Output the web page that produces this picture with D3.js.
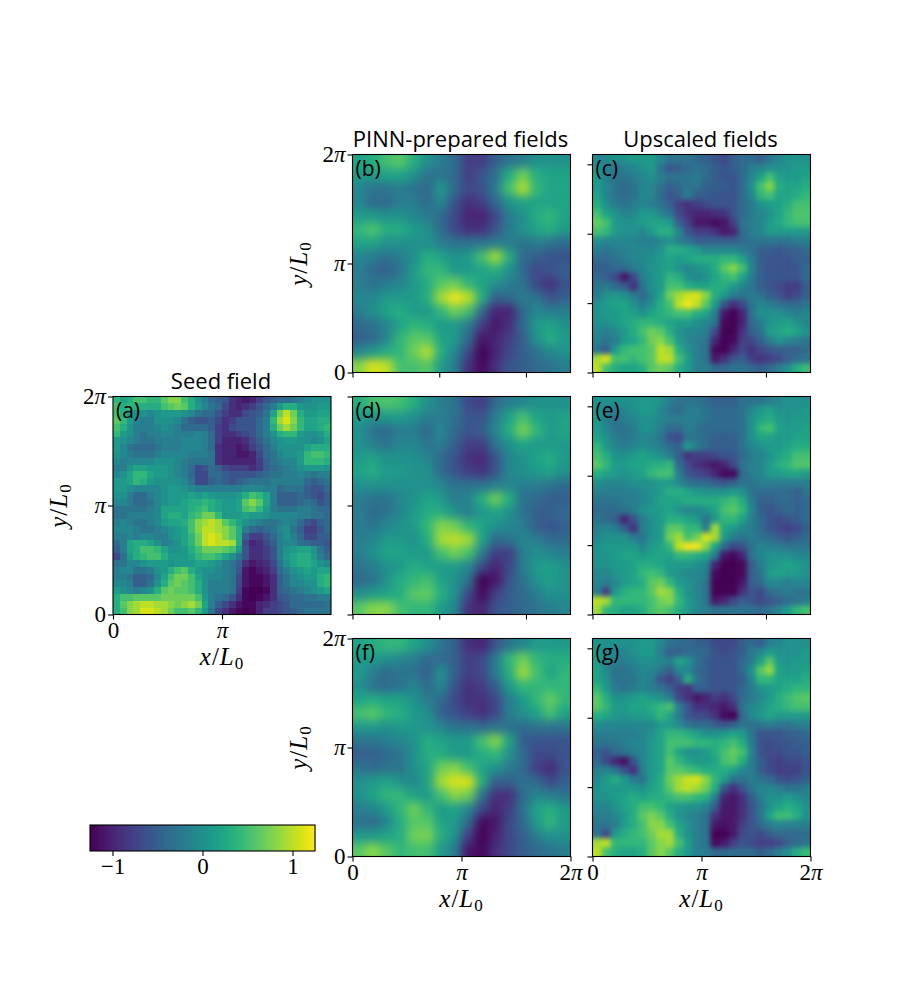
<!DOCTYPE html>
<html>
<head>
<meta charset="utf-8">
<script src="https://cdn.jsdelivr.net/npm/d3@7"></script>
<style>
  body { margin: 0; background: #fff; }
  svg { display: block; }
  .title { font-family: "Open Sans", sans-serif; font-size: 22px; fill: #000; text-anchor: middle; }
  .tag { font-family: "Open Sans", sans-serif; font-size: 21px; fill: #000; }
  .tick text, .math { font-family: "Liberation Serif", serif; font-size: 23px; fill: #000; }
  .math { font-size: 25px; letter-spacing: 1px; }
  .tick line, .domain { stroke: #000; stroke-width: 1.1px; }
</style>
</head>
<body>
<div id="chart"></div>
<script>
const WIDTH = 900;
const HEIGHT = 1000;
const PI = Math.PI;
const VMIN = -1.25;
const VMAX = 1.25;

// Seed field, 32 x 32, top row first
const seedField = [
[.4,.2,.3,.5,.5,.4,.4,.6,.8,.8,.5,.3,0,-.2,-.4,-.5,-.6,-.9,-1,-1.1,-1,-.8,-.6,-.5,-.4,-.4,-.3,-.2,-.1,0,0,0],
[.5,.3,.4,.3,.3,.3,.3,.5,.6,.7,.6,.3,.1,-.1,-.3,-.4,-.7,-.9,-1,-.9,-.8,-.6,-.4,-.2,.1,.3,.3,.1,0,0,.1,.1],
[.5,.3,.1,0,0,-.1,0,.1,.1,.1,0,-.1,-.3,-.4,-.4,-.6,-.8,-.9,-.9,-.7,-.6,-.5,-.3,.2,.7,1,.7,.3,.1,.1,.2,.2],
[.6,.4,.1,-.1,-.2,-.2,0,0,0,-.1,-.3,-.5,-.6,-.6,-.5,-.7,-.9,-.8,-.6,-.6,-.6,-.4,-.2,.4,.9,1.1,.8,.4,.2,.2,.3,.3],
[.5,.3,0,-.2,-.2,-.2,-.1,0,-.1,-.2,-.4,-.4,-.4,-.4,-.5,-.8,-.9,-.7,-.6,-.6,-.6,-.4,-.2,.3,.7,.9,.7,.4,.2,.2,.3,.4],
[.4,.1,0,-.2,-.3,-.2,-.2,-.1,-.1,-.2,-.2,-.2,-.1,-.2,-.4,-.8,-.9,-.9,-.8,-.7,-.6,-.4,-.2,0,.3,.4,.4,.1,0,0,.1,.3],
[.1,0,-.1,-.2,-.3,-.3,-.2,-.2,-.2,-.2,-.1,-.1,-.1,-.2,-.4,-.8,-1,-1,-1,-.9,-.7,-.5,-.3,-.1,0,.1,.1,0,0,-.1,0,.2],
[.1,-.1,-.3,-.4,-.4,-.4,-.3,-.2,-.2,-.2,-.1,-.1,-.1,-.2,-.4,-.9,-1,-1,-1.1,-1,-.8,-.6,-.4,-.2,0,0,0,0,.2,.3,.3,.3],
[0,-.1,-.2,-.3,-.3,-.3,-.2,-.1,-.1,-.1,-.1,-.2,-.2,-.2,-.3,-.9,-1,-1,-1.1,-1.1,-1,-.7,-.4,-.3,-.1,0,0,.1,.4,.5,.5,.4],
[-.1,-.2,-.1,-.1,-.1,-.1,0,0,0,-.1,-.2,-.3,-.3,-.3,-.3,-.9,-1,-1,-1,-1,-1,-.8,-.5,-.3,-.2,-.1,-.1,.1,.4,.4,.4,.3],
[-.2,-.2,0,.2,.2,.1,.1,.1,0,-.1,-.2,-.4,-.7,-.6,-.4,-.5,-.7,-.8,-.8,-.8,-.9,-.8,-.5,-.4,-.3,-.2,-.1,0,.1,.1,.1,0],
[-.1,0,.2,.4,.4,.2,.1,.1,0,-.1,-.2,-.4,-.7,-.7,-.4,-.4,-.5,-.6,-.6,-.6,-.6,-.5,-.4,-.3,-.3,-.2,-.2,-.1,-.2,-.3,-.2,-.2],
[.1,.1,.2,.4,.3,.1,0,0,0,0,-.1,-.3,-.7,-.7,-.5,-.4,-.5,-.6,-.5,-.4,-.3,-.3,-.3,-.2,-.2,-.2,-.2,-.2,-.4,-.5,-.4,-.3],
[.1,.1,0,-.1,-.1,-.1,-.1,0,.1,.1,0,-.1,-.2,-.2,-.2,-.2,-.2,-.2,-.2,-.1,-.1,-.1,-.2,-.2,-.4,-.3,-.3,-.3,-.5,-.6,-.6,-.4],
[0,0,-.2,-.4,-.4,-.2,-.1,0,.1,.1,.1,.2,.1,.2,.1,0,0,0,.1,.3,.5,.4,.2,-.2,-.5,-.5,-.5,-.4,-.5,-.6,-.7,-.5],
[-.1,-.1,-.2,-.4,-.4,-.3,-.1,0,.1,.1,.2,.3,.3,.4,.3,.2,.1,.1,.2,.6,.8,.6,.2,-.2,-.5,-.5,-.5,-.4,-.3,-.4,-.6,-.5],
[-.3,-.3,-.3,-.3,-.3,-.2,-.1,.2,.2,.2,.2,.3,.4,.5,.3,.2,.1,.1,.2,.5,.6,.4,.1,-.2,-.3,-.3,-.3,-.2,-.2,-.3,-.4,-.4],
[-.3,-.3,-.2,-.2,-.2,-.2,-.1,.2,.3,.3,.2,.4,.5,.7,.7,.4,.1,.1,.1,.2,.1,.1,0,-.1,-.1,-.1,-.1,-.2,-.2,-.3,-.3,-.4],
[-.2,-.1,-.2,-.3,-.3,-.2,-.1,.1,.2,.2,.3,.5,.8,.9,1,.9,.6,.4,.2,0,-.1,-.2,-.3,-.3,-.2,-.1,-.2,-.4,-.6,-.7,-.5,-.4],
[-.1,-.1,-.1,-.2,-.3,-.3,-.2,-.1,0,.1,.2,.5,.8,1,1,.9,.8,.6,.3,-.2,-.4,-.5,-.4,-.3,-.1,0,-.3,-.5,-.8,-.8,-.6,-.4],
[-.2,-.2,-.1,-.2,-.1,-.1,-.2,-.2,0,.1,.2,.4,.7,1,1.1,1,.8,.6,.3,-.5,-.8,-.8,-.6,-.4,-.2,0,-.2,-.4,-.7,-.7,-.5,-.5],
[-.4,-.2,.2,.3,.3,.2,0,-.2,-.1,0,.2,.4,.7,1,1.1,1,1,.9,.3,-.7,-1,-.9,-.7,-.5,-.2,-.1,-.1,-.3,-.4,-.5,-.5,-.6],
[-.5,-.2,.2,.3,.5,.5,.4,.2,0,0,.1,.3,.5,.7,.7,.7,.6,.5,.1,-.6,-.9,-.9,-.8,-.6,-.2,0,.1,.2,.2,0,-.3,-.5],
[-.7,-.3,.1,.3,.4,.5,.5,.3,.1,.1,.1,.2,.4,.5,.5,.4,.2,0,-.3,-.6,-.9,-.9,-.8,-.6,-.2,.1,.2,.3,.3,.1,-.2,-.4],
[-.3,-.3,-.1,-.1,0,.1,.1,.1,0,.1,.1,.1,.2,.2,.1,0,-.2,-.3,-.5,-.9,-1.1,-1,-.9,-.7,-.3,0,.2,.3,.3,.2,0,-.1],
[-.2,-.1,-.1,-.3,-.3,-.2,0,.1,.3,.5,.6,.3,.1,0,0,-.1,-.2,-.3,-.6,-1.1,-1.2,-1.1,-1,-.8,-.4,-.2,0,.1,.2,.1,.2,.2],
[-.2,-.2,-.3,-.5,-.5,-.4,-.1,.2,.5,.7,.7,.5,.2,0,-.1,-.1,-.2,-.3,-.7,-1.1,-1.2,-1.2,-1.1,-.9,-.5,-.3,-.1,0,.1,.1,.3,.4],
[-.1,-.1,-.2,-.5,-.5,-.3,0,.3,.6,.7,.6,.5,.3,0,-.2,-.2,-.2,-.3,-.7,-1.1,-1.2,-1.2,-1.1,-.9,-.5,-.3,-.1,-.1,0,0,.3,.4],
[.1,0,-.1,-.2,-.1,0,.3,.6,.7,.6,.6,.5,.3,0,-.2,-.2,-.2,-.3,-.8,-1.2,-1.25,-1.25,-1.2,-.9,-.5,-.4,-.3,-.2,-.1,0,.1,.2],
[.3,.5,.5,.6,.6,.6,.6,.7,.7,.7,.7,.7,.5,.1,-.2,-.3,-.4,-.6,-.9,-1.2,-1.25,-1.2,-1.1,-.9,-.6,-.5,-.4,-.4,-.3,-.3,-.2,-.2],
[.3,.6,.8,.9,1,1,.9,.9,.8,.7,.8,.9,.7,.2,-.2,-.5,-.7,-.9,-1.1,-1.2,-1.2,-1,-.9,-.8,-.7,-.6,-.4,-.4,-.4,-.4,-.4,-.3],
[.3,.5,.8,.9,1.1,1.1,1,.9,.7,.5,.5,.6,.4,.1,-.3,-.7,-.9,-1.1,-1.2,-1.25,-1.2,-1,-.8,-.8,-.7,-.6,-.5,-.4,-.3,-.3,-.3,-.3],
];

// PINN-prepared fields, 16 x 16
const fieldB = [
[.2,.3,.5,.6,.3,0,-.2,-.4,-.8,-.8,-.5,-.3,-.2,0,0,0],
[.1,.1,.2,.2,0,-.3,-.3,-.4,-.8,-.6,-.3,.3,.7,.3,.2,.2],
[-.1,-.3,-.3,-.2,-.3,-.4,.1,-.4,-.7,-.6,-.2,.5,.95,.4,.2,.2],
[-.1,-.4,-.4,-.2,-.2,-.4,-.1,-.6,-.9,-.8,-.4,0,.2,.2,.2,.2],
[.1,.1,0,0,-.1,-.2,-.4,-.7,-1,-1,-.7,-.2,0,.3,.4,.2],
[.4,.55,.3,.3,.1,0,-.4,-.7,-.9,-.9,-.6,-.2,0,.2,.3,.1],
[.2,.2,0,0,0,0,-.2,-.3,-.3,-.3,-.2,-.2,-.3,-.2,-.3,-.4],
[-.1,-.2,-.3,-.2,0,.3,.2,0,.1,.5,.9,.3,-.4,-.5,-.6,-.6],
[-.2,-.4,-.5,-.3,.1,.4,.4,.1,.1,.2,.3,0,-.4,-.7,-.6,-.5],
[-.2,-.3,-.2,-.1,.1,.3,.6,.7,.4,.2,0,-.2,-.3,-.7,-.9,-.6],
[-.1,-.1,.1,.1,.1,.3,.9,1.2,1,.3,-.5,-.4,-.2,-.3,-.6,-.5],
[-.2,0,.2,.3,.1,.1,.4,.7,.5,-.4,-1,-1,-.4,-.1,-.2,-.2],
[-.4,-.3,-.1,.2,.4,.3,.1,.1,-.2,-.8,-1.1,-.9,-.4,.1,.2,0],
[-.5,-.4,-.1,.4,.6,.6,.2,.1,-.4,-1.1,-1,-.8,-.5,0,.3,.1],
[-.1,.1,.3,.4,.7,.95,.3,-.1,-.7,-1.25,-1,-.7,-.5,-.3,-.1,0],
[.8,1.1,1,.5,.5,.6,.1,-.2,-.9,-1.2,-.9,-.6,-.5,-.4,-.3,-.2],
];
const fieldD = [
[.3,.5,.55,.5,.3,0,-.2,-.3,-.7,-.8,-.4,-.2,-.1,0,0,0],
[.1,0,.1,.1,0,-.2,-.2,-.3,-.6,-.6,-.2,.2,.5,.2,.1,.2],
[0,-.3,-.4,-.2,-.2,-.4,-.1,-.4,-.6,-.5,-.1,.3,.75,.4,.1,.2],
[0,-.2,-.3,-.1,-.1,-.3,-.2,-.5,-.8,-.8,-.3,0,.2,.1,.1,.1],
[.1,.2,0,0,0,-.1,-.4,-.6,-.9,-.95,-.6,-.1,0,.2,.3,.1],
[.2,.3,.1,.1,0,0,-.4,-.6,-.8,-.9,-.6,-.1,0,.1,.2,0],
[0,0,0,0,0,0,-.1,-.3,-.3,-.3,-.2,-.1,-.2,-.2,-.3,-.4],
[-.2,-.3,-.3,-.1,0,.2,.1,-.2,-.1,.3,.7,.3,-.3,-.4,-.5,-.5],
[-.2,-.4,-.3,-.1,.1,.3,.3,0,-.2,.1,.2,0,-.3,-.5,-.5,-.4],
[-.2,-.3,-.1,0,.1,.4,.8,.7,.4,.2,0,-.1,-.2,-.5,-.6,-.5],
[-.2,-.1,.1,.1,0,.3,.9,1,.9,.2,-.4,-.3,-.1,-.2,-.4,-.4],
[-.2,0,.2,.2,.1,.1,.5,.7,.5,-.2,-.8,-.8,-.2,0,-.1,-.2],
[-.3,-.2,0,.1,.3,.2,.1,.1,-.1,-.7,-1,-.7,-.2,.1,.15,0],
[-.4,-.3,0,.3,.4,.5,.2,0,-.3,-1.25,-1.1,-.6,-.3,0,.15,0],
[0,.1,.2,.3,.6,.65,.3,0,-.7,-1.2,-.8,-.5,-.4,-.2,0,0],
[.6,.8,.8,.5,.4,.4,.1,-.1,-.9,-1,-.6,-.5,-.4,-.3,-.2,-.1],
];
const fieldF = [
[.2,.3,.4,.4,.2,0,-.3,-.5,-.9,-1,-.6,-.3,-.1,.1,.1,.1],
[.1,.1,0,-.1,-.2,-.4,-.4,-.5,-.8,-.7,-.2,.4,.7,.4,.3,.3],
[.1,-.2,-.4,-.3,-.3,-.5,0,-.5,-.8,-.7,-.2,.3,.9,.5,.2,.4],
[0,-.3,-.4,-.3,-.1,-.4,-.1,-.6,-.9,-.8,-.5,.1,.4,.4,.4,.4],
[.2,.3,.2,.2,0,-.2,-.4,-.7,-.9,-.9,-.7,-.2,.1,.4,.65,.4],
[.5,.6,.4,.3,.1,0,-.5,-.6,-.8,-.9,-.7,-.2,0,.2,.5,.2],
[.1,.1,0,.1,.1,0,-.1,-.3,-.3,-.4,-.3,-.3,-.4,-.3,-.3,-.3],
[-.3,-.3,-.2,-.1,0,.3,.2,.1,.1,.5,.8,.2,-.5,-.6,-.6,-.6],
[-.5,-.5,-.4,-.3,0,.3,.3,.1,.1,.3,.4,0,-.4,-.7,-.7,-.6],
[-.3,-.4,-.3,-.3,0,.2,.7,.8,.5,.2,0,-.2,-.4,-.8,-.95,-.6],
[0,.1,.2,0,-.1,.2,.9,1.1,1.1,.3,-.5,-.5,-.3,-.4,-.7,-.5],
[0,.2,.4,.4,.2,.1,.5,.8,.7,-.3,-.9,-.9,-.4,-.1,-.2,-.3],
[-.2,-.1,.1,.4,.7,.4,.1,.2,-.1,-.7,-1,-.8,-.3,.2,.3,.1],
[-.3,-.4,-.1,.3,.6,.6,.2,.1,-.4,-1.2,-1.1,-.7,-.4,.1,.4,.1],
[.1,.1,.2,.3,.7,.75,.3,0,-.8,-1.25,-1,-.7,-.5,-.2,0,0],
[.6,.8,.6,.4,.5,.5,.1,-.2,-1.1,-1.2,-.9,-.7,-.5,-.4,-.3,-.2],
];

// Upscaled fields, 24 x 24
const fieldC = [
[-.1,-.1,0,0,.1,.1,.1,-.1,-.3,-.3,-.3,-.4,-.5,-.6,-.7,-.5,-.4,-.4,-.5,-.3,-.1,0,0,0],
[0,-.2,-.3,-.2,-.1,0,.1,-.3,-.6,-.5,-.4,-.3,-.4,-.5,-.6,-.5,-.4,-.2,-.1,0,0,0,.1,.1],
[.1,-.2,-.3,-.3,-.2,-.1,0,-.2,-.3,-.3,-.3,-.2,-.4,-.5,-.6,-.6,-.4,-.1,.2,.5,.2,.1,.1,.2],
[.1,-.1,-.3,-.4,-.3,-.1,-.1,-.3,-.5,-.4,-.3,-.3,-.5,-.5,-.5,-.6,-.4,0,.5,.8,.3,.2,.2,.3],
[.2,-.1,-.3,-.4,-.3,-.1,-.1,-.4,-.6,-.5,-.2,-.5,-.5,-.6,-.6,-.6,-.4,-.1,.4,.5,.2,.2,.3,.4],
[.3,0,-.2,-.3,-.2,-.1,-.2,-.3,-.5,-.8,-.9,-.8,-.7,-.6,-.6,-.6,-.4,-.2,0,.1,.2,.3,.5,.5],
[.5,.2,0,-.1,-.1,.1,.1,-.1,-.3,-.7,-.9,-1,-1,-.9,-.9,-.6,-.4,-.2,-.1,0,.2,.4,.55,.55],
[.65,.5,.1,0,0,.1,.2,.2,.1,-.5,-.8,-1.1,-1.1,-1.2,-1.1,-.8,-.3,-.2,-.1,.1,.25,.4,.5,.5],
[.5,.4,.1,0,0,-.1,.1,.3,.3,-.1,-.6,-.8,-.8,-.9,-1.1,-1,-.4,-.2,-.1,.1,.1,.1,.1,.1],
[0,-.1,-.1,-.1,-.1,-.2,-.2,-.1,0,-.2,-.3,-.5,-.5,-.5,-.5,-.5,-.4,-.3,-.3,-.3,-.3,-.3,-.2,-.2],
[-.2,-.3,-.2,-.2,-.1,-.1,-.1,0,.3,.3,.2,.1,-.1,-.1,-.1,-.1,-.2,-.3,-.5,-.5,-.6,-.5,-.5,-.4],
[-.4,-.4,-.3,-.2,-.1,-.1,0,.1,.2,.1,.2,.3,.3,.3,.4,.4,.2,-.2,-.5,-.6,-.6,-.6,-.5,-.5],
[-.5,-.5,-.4,-.4,-.2,-.1,0,.1,.2,0,-.1,0,.1,.3,.6,.8,.5,-.1,-.5,-.6,-.6,-.6,-.6,-.4],
[-.4,-.5,-.7,-1.1,-.7,-.2,0,.1,.4,.3,0,-.1,0,.2,.4,.5,.2,-.2,-.5,-.6,-.6,-.6,-.6,-.4],
[-.3,-.2,-.4,-.5,-.9,-.3,0,.1,.5,.5,.3,.2,.2,.3,.3,.1,-.1,-.3,-.5,-.6,-.7,-.8,-.8,-.5],
[-.2,0,.1,0,-.2,-.4,-.1,.2,.7,.9,1.05,1.1,.8,.3,.1,-.2,-.3,-.2,-.3,-.5,-.6,-.8,-.7,-.5],
[0,.1,.2,.2,0,-.2,0,.3,.5,1,1.2,1,.6,.1,-.6,-.9,-.7,-.3,-.1,-.2,-.3,-.4,-.4,-.3],
[0,.1,.1,.2,.2,0,.2,.3,.4,.5,.5,.3,.2,-.2,-1.1,-1.25,-1,-.3,0,0,0,-.1,-.2,-.1],
[0,0,.1,.2,.3,.4,.4,.3,.2,.1,.1,0,-.1,-.3,-1.2,-1.25,-1,-.4,-.2,0,.1,.2,0,-.1],
[-.1,-.2,-.1,.1,.3,.5,.7,.6,.3,0,-.1,-.1,-.2,-.7,-1.25,-1.25,-.9,-.5,-.3,.1,.2,.3,.2,0],
[-.2,-.3,-.2,.1,.2,.4,.7,.8,.5,.1,-.1,-.2,-.3,-1,-1.25,-1.2,-.8,-.7,-.5,-.2,0,-.1,-.2,-.3],
[-.3,-.5,.1,.4,.5,.5,.6,1,.9,.3,0,-.2,-.3,-1.2,-1.25,-1,-.7,-.9,-.7,-.6,-.5,-.5,-.5,-.4],
[.9,1.1,.5,.5,.4,.5,.6,1,1,.5,.1,-.2,-.3,-1.1,-.9,-.6,-.5,-.8,-.9,-.8,-.7,-.5,-.4,-.3],
[1,.5,.3,.2,.2,.3,.6,.7,.6,.3,.1,-.2,-.2,-.4,-.4,-.3,-.3,-.4,-.5,-.4,-.2,0,.3,.45],
];
const fieldE = [
[0,0,0,0,0,.1,.1,0,-.2,-.3,-.3,-.3,-.4,-.5,-.5,-.5,-.3,-.3,-.3,-.2,-.1,0,0,0],
[0,-.2,-.2,-.1,0,.1,.1,-.1,-.3,-.4,-.2,-.2,-.3,-.4,-.4,-.4,-.3,-.1,.1,.2,0,0,0,.1],
[.1,-.2,-.3,-.2,-.1,0,0,-.1,-.2,-.2,-.2,-.2,-.3,-.4,-.4,-.4,-.3,0,.2,.3,.1,0,.1,.1],
[.1,-.1,-.3,-.3,-.2,0,0,-.2,-.4,-.4,-.2,-.3,-.4,-.4,-.4,-.4,-.3,0,.4,.5,.2,.1,.1,.2],
[.2,0,-.2,-.3,-.2,-.1,-.1,-.3,-.6,-.7,-.3,-.3,-.4,-.5,-.5,-.5,-.3,0,.2,.2,.1,.1,.2,.2],
[.4,.1,-.1,-.2,-.1,0,-.1,-.2,-.4,-.5,.1,-.2,-.4,-.5,-.5,-.5,-.3,-.1,0,.1,.1,.2,.3,.3],
[.5,.3,0,0,.1,.2,.1,0,-.2,-.5,-.9,-.8,-.8,-.7,-.6,-.6,-.4,-.2,-.1,0,.2,.3,.5,.5],
[.6,.4,.1,.1,.2,.2,.3,.3,.4,-.4,-.7,-.9,-1,-1.1,-1,-.7,-.3,-.2,-.1,.1,.3,.4,.55,.55],
[.3,.2,.1,0,.1,.2,.4,.5,.5,-.2,-.6,-.7,-.8,-1,-1.2,-1.2,-.4,-.2,-.1,.1,.1,.2,.2,.1],
[0,-.1,-.1,-.1,0,0,0,.1,.1,-.1,-.3,-.4,-.4,-.5,-.6,-.5,-.3,-.3,-.2,-.2,-.2,-.2,-.2,-.2],
[-.2,-.2,-.2,-.2,-.2,-.1,0,.1,.3,.3,.2,.1,0,0,0,.1,0,-.3,-.4,-.4,-.4,-.4,-.5,-.3],
[-.3,-.3,-.3,-.2,-.2,-.1,0,.2,.2,.2,.3,.3,.3,.3,.4,.5,.3,-.2,-.5,-.5,-.4,-.4,-.5,-.4],
[-.4,-.4,-.4,-.3,-.2,0,.1,.1,.2,0,-.1,-.1,0,.2,.5,.6,.4,-.1,-.5,-.6,-.5,-.4,-.5,-.4],
[-.3,-.4,-.5,-1,-.6,-.2,0,.1,.3,.3,.2,.1,-.3,.1,.4,.4,.2,-.2,-.4,-.6,-.7,-.6,-.5,-.4],
[-.2,-.1,-.2,-.5,-.9,-.2,0,.1,.6,.6,.4,.4,-.2,.9,.2,.1,-.1,-.2,-.4,-.6,-.7,-.8,-.7,-.5],
[-.1,0,0,0,-.2,-.3,0,.1,.7,.9,.5,.7,1.1,.9,.1,-.2,-.3,-.2,-.3,-.4,-.5,-.6,-.5,-.4],
[0,.1,.1,.1,.1,-.1,.1,.2,.4,1,1.2,1.2,.8,.2,-.4,-.7,-.6,-.3,-.1,-.2,-.2,-.3,-.3,-.3],
[0,0,.1,.2,.2,.1,.2,.2,.2,.4,.4,.3,.2,-.2,-1.1,-1.2,-1,-.3,-.1,0,0,0,-.1,-.1],
[0,0,.1,.1,.2,.3,.3,.2,.1,.1,.1,0,-.1,-1,-1.25,-1.25,-1.2,-.5,-.2,0,.1,.2,.1,0],
[-.1,-.1,0,.1,.2,.4,.5,.4,.1,0,-.1,-.1,-.2,-1.2,-1.25,-1.25,-1.2,-.5,-.3,.1,.2,.1,.1,0],
[-.1,-.2,-.1,.1,.2,.3,.6,.7,.4,.1,0,-.1,-.3,-1.25,-1.25,-1.25,-1.1,-.5,-.4,-.1,-.1,-.2,-.1,-.1],
[-.2,-.8,.1,.3,.4,.4,.6,.9,.8,.3,0,-.1,-.3,-1.25,-1.25,-1.25,-.9,-.6,-.7,-.4,-.3,-.2,-.3,-.3],
[1,.9,.4,.4,.4,.4,.5,.7,.8,.4,.1,-.1,-.3,-1.1,-1,-.7,-.5,-.6,-.7,-.6,-.5,-.4,-.3,-.2],
[.9,.4,.3,.2,.2,.3,.5,.6,.5,.3,.1,-.1,-.2,-.3,-.3,-.3,-.3,-.3,-.4,-.3,-.1,.1,.4,.5],
];
const fieldG = [
[0,0,0,0,0,.1,.1,-.1,-.3,-.4,-.4,-.5,-.5,-.7,-.7,-.7,-.5,-.4,-.5,-.2,-.1,0,0,0],
[.1,-.1,-.1,-.1,0,.1,.1,-.2,-.5,-.5,-.4,-.4,-.4,-.6,-.7,-.6,-.5,-.2,-.1,.1,0,0,0,.1],
[.1,-.1,-.2,-.2,-.1,0,0,-.1,-.2,.2,0,-.3,-.5,-.6,-.6,-.6,-.4,-.2,.2,.6,.1,0,.1,.1],
[.2,-.1,-.3,-.3,-.2,-.1,-.1,-.3,-.5,-.1,-.1,-.4,-.5,-.6,-.6,-.6,-.4,0,.6,.85,.2,.1,.1,.2],
[.2,0,-.3,-.3,-.3,-.1,-.2,-.6,-.8,-.5,.3,-.3,-.5,-.6,-.6,-.6,-.5,-.1,.4,.4,.2,.2,.2,.3],
[.4,.1,-.2,-.3,-.2,-.1,-.2,-.3,-.5,-.8,-.9,-.5,-.5,-.6,-.6,-.6,-.4,-.2,0,.1,.2,.3,.4,.4],
[.6,.3,0,0,.1,.2,.1,0,-.2,-.7,-.9,-1.1,-1,-.8,-.9,-.7,-.4,-.2,-.1,.1,.3,.45,.55,.6],
[.6,.4,.1,.1,.2,.2,.3,.4,.5,-.2,-.6,-.9,-.9,-1,-1.1,-.9,-.3,-.1,0,.2,.3,.4,.5,.5],
[.3,.2,.1,0,.1,.1,.2,.4,.2,-.2,-.6,-.7,-.7,-.9,-1.2,-1.25,-.4,-.1,.1,.2,.1,.1,.1,.1],
[0,-.1,-.1,-.1,-.1,-.1,-.1,.1,.1,-.1,-.3,-.4,-.4,-.5,-.6,-.5,-.3,-.3,-.3,-.2,-.3,-.3,-.2,-.2],
[-.2,-.2,-.2,-.2,-.2,-.1,0,.2,.4,.4,.3,.2,0,0,.1,.2,.1,-.3,-.6,-.6,-.6,-.5,-.5,-.4],
[-.3,-.3,-.3,-.2,-.1,-.1,.1,.2,.5,.5,.5,.4,.4,.3,.4,.5,.3,-.2,-.6,-.7,-.6,-.6,-.5,-.5],
[-.5,-.6,-.4,-.3,-.2,-.1,.1,.2,.5,.2,0,0,.1,.3,.5,.65,.5,-.1,-.6,-.7,-.7,-.6,-.6,-.5],
[-.4,-.7,-1,-1.15,-.6,-.1,.1,.2,.6,.4,.2,.1,.1,.2,.5,.6,.3,-.2,-.5,-.7,-.8,-.7,-.7,-.6],
[-.2,-.1,-.3,-.6,-.9,-.2,.1,.2,.6,.6,.5,.4,.3,.3,.3,.2,-.1,-.2,-.5,-.7,-.8,-.8,-.8,-.6],
[-.1,.1,.3,.1,-.2,-.3,.1,.3,.7,.9,1.05,1.1,.8,.4,.1,-.3,-.3,-.2,-.3,-.4,-.6,-.7,-.6,-.5],
[0,.1,.1,.1,.1,0,.2,.3,.6,.9,1,.9,.7,.3,-.6,-.9,-.6,-.3,-.1,-.1,-.2,-.3,-.3,-.2],
[0,0,.1,.2,.3,.2,.3,.3,.4,.5,.5,.4,.3,-.2,-1,-1.1,-.9,-.5,-.2,0,0,.1,0,-.1],
[-.1,-.1,0,.2,.3,.5,.5,.4,.2,.1,0,0,-.1,-.5,-1.1,-1.1,-.9,-.6,-.3,0,.2,.3,.2,0],
[-.2,-.2,-.1,.1,.3,.6,.75,.6,.3,0,-.1,-.2,-.3,-.9,-1.1,-1.1,-.9,-.6,-.3,.2,.45,.45,.3,0],
[-.3,-.3,-.2,.1,.3,.5,.8,.8,.5,.2,0,-.2,-.3,-1.1,-1.15,-1.1,-.8,-.6,-.4,-.2,-.1,-.2,-.2,-.2],
[-.3,-.7,.1,.3,.4,.5,.7,.9,.9,.3,0,-.2,-.3,-1.25,-1.25,-1.1,-.7,-.6,-.7,-.5,-.4,-.4,-.4,-.4],
[.9,1,.4,.4,.4,.4,.6,.8,.9,.5,.1,-.2,-.3,-1.2,-1.1,-.8,-.6,-.7,-.8,-.8,-.7,-.5,-.4,-.3],
[1,.5,.3,.2,.2,.3,.6,.8,.6,.3,.1,-.2,-.2,-.4,-.4,-.4,-.4,-.4,-.5,-.4,-.2,0,.3,.45],
];

const PI_TICKS = [0, PI, 2 * PI];
const UNLABELLED_X = [0, 2.5, 5];
const UNLABELLED_Y = [0, 2, 4, 6];
const CBAR_TICKS = [-1, 0, 1];

const COL1 = 113;
const COL2 = 352.5;
const COL3 = 592.5;
const ROW1 = 154.5;
const ROW2 = 396.5;
const ROW3 = 638.5;
const SIZE = 218;

const panels = [
  { tag: "(a)", field: seedField, x: COL1, y: ROW2, blur: 0, title: "Seed field",
    xTicks: [0, PI], yTicks: PI_TICKS, xLabels: true, yLabels: true },
  { tag: "(b)", field: fieldB, x: COL2, y: ROW1, blur: 5, title: "PINN-prepared fields",
    xTicks: UNLABELLED_X, yTicks: PI_TICKS, yLabels: true },
  { tag: "(c)", field: fieldC, x: COL3, y: ROW1, blur: 2.5, title: "Upscaled fields",
    xTicks: UNLABELLED_X, yTicks: UNLABELLED_Y },
  { tag: "(d)", field: fieldD, x: COL2, y: ROW2, blur: 5,
    xTicks: UNLABELLED_X, yTicks: PI_TICKS },
  { tag: "(e)", field: fieldE, x: COL3, y: ROW2, blur: 2.5,
    xTicks: UNLABELLED_X, yTicks: UNLABELLED_Y },
  { tag: "(f)", field: fieldF, x: COL2, y: ROW3, blur: 5,
    xTicks: PI_TICKS, yTicks: PI_TICKS, xLabels: true, yLabels: true },
  { tag: "(g)", field: fieldG, x: COL3, y: ROW3, blur: 2.5,
    xTicks: PI_TICKS, yTicks: UNLABELLED_Y, xLabels: true },
];

const color = d3.scaleSequential(d3.interpolateViridis).domain([VMIN, VMAX]);

const svg = d3.select("#chart").append("svg")
  .attr("width", WIDTH)
  .attr("height", HEIGHT);
const defs = svg.append("defs");

[2.5, 5].forEach((s) => {
  defs.append("filter")
    .attr("id", `blur${String(s).replace(".", "_")}`)
    .attr("filterUnits", "userSpaceOnUse")
    .attr("x", -40).attr("y", -40)
    .attr("width", SIZE + 80).attr("height", SIZE + 80)
    .attr("color-interpolation-filters", "sRGB")
    .append("feGaussianBlur")
    .attr("stdDeviation", s);
});

// pi labels: digit upright, pi italic
function piText(sel, labels) {
  sel.selectAll(".tick text").each(function (d) {
    const t = d3.select(this).text("");
    if (!labels) return;
    if (d === 0) t.text("0");
    else if (Math.abs(d - PI) < 1e-6) t.append("tspan").attr("font-style", "italic").text("π");
    else {
      t.append("tspan").text("2");
      t.append("tspan").attr("font-style", "italic").text("π");
    }
  });
}

function mathLabel(sel) {
  sel.append("tspan").attr("font-style", "italic").text(sel.attr("data-a"));
  sel.append("tspan").text("/");
  sel.append("tspan").attr("font-style", "italic").text("L");
  sel.append("tspan").attr("font-size", "17px").attr("dy", 4).text("0");
}

panels.forEach((p, idx) => {
  const n = p.field.length;
  const g = svg.append("g").attr("transform", `translate(${p.x},${p.y})`);
  const band = d3.scaleBand().domain(d3.range(n)).range([0, SIZE]);
  const xs = d3.scaleLinear().domain([0, 2 * PI]).range([0, SIZE]);
  const ys = d3.scaleLinear().domain([0, 2 * PI]).range([SIZE, 0]);

  const clipId = `clip${idx}`;
  defs.append("clipPath").attr("id", clipId)
    .append("rect").attr("width", SIZE).attr("height", SIZE);

  const cells = g.append("g").attr("clip-path", `url(#${clipId})`).append("g");
  if (p.blur) cells.attr("filter", `url(#blur${String(p.blur).replace(".", "_")})`);
  else cells.attr("shape-rendering", "crispEdges");

  // edge cells are stretched outwards so the blur does not fade into white
  const pad = p.blur ? 30 : 0;
  const overlap = 0.5;
  const cellData = p.field.flatMap((row, r) => row.map((v, c) => ({ r, c, v })));
  cells.selectAll("rect")
    .data(cellData)
    .join("rect")
    .attr("x", (d) => band(d.c) - (d.c === 0 ? pad : 0))
    .attr("y", (d) => band(d.r) - (d.r === 0 ? pad : 0))
    .attr("width", (d) => band.bandwidth() + overlap + (d.c === 0 || d.c === n - 1 ? pad : 0))
    .attr("height", (d) => band.bandwidth() + overlap + (d.r === 0 || d.r === n - 1 ? pad : 0))
    .attr("fill", (d) => color(d.v));

  g.append("rect")
    .attr("width", SIZE).attr("height", SIZE)
    .attr("fill", "none").attr("stroke", "#000").attr("stroke-width", 1.1);

  const xAxis = g.append("g")
    .attr("transform", `translate(0,${SIZE})`)
    .call(d3.axisBottom(xs).tickValues(p.xTicks).tickSize(5).tickPadding(2));
  xAxis.select(".domain").remove();
  piText(xAxis, p.xLabels);

  const yAxis = g.append("g")
    .call(d3.axisLeft(ys).tickValues(p.yTicks).tickSize(5).tickPadding(2));
  yAxis.select(".domain").remove();
  piText(yAxis, p.yLabels);

  g.append("text").attr("class", "tag").attr("x", 3).attr("y", 21).text(p.tag);

  if (p.title) {
    g.append("text").attr("class", "title")
      .attr("x", SIZE / 2 - 1).attr("y", -8).text(p.title);
  }
  if (p.xLabels) {
    g.append("text").attr("class", "math")
      .attr("data-a", "x")
      .attr("x", SIZE / 2).attr("y", SIZE + 50)
      .attr("text-anchor", "middle")
      .call(mathLabel);
  }
  if (p.yLabels) {
    g.append("text").attr("class", "math")
      .attr("data-a", "y")
      .attr("transform", `translate(-46,${SIZE / 2}) rotate(-90)`)
      .attr("text-anchor", "middle")
      .call(mathLabel);
  }
});

// Colour bar
const CBAR_X = 90;
const CBAR_Y = 825;
const CBAR_W = 225;
const CBAR_H = 26;
const cbar = svg.append("g").attr("transform", `translate(${CBAR_X},${CBAR_Y})`);
const cbarScale = d3.scaleLinear().domain([VMIN, VMAX]).range([0, CBAR_W]);
cbar.selectAll("rect")
  .data(d3.range(VMIN, VMAX, (VMAX - VMIN) / CBAR_W))
  .join("rect")
  .attr("x", (d) => cbarScale(d))
  .attr("width", 1.5)
  .attr("height", CBAR_H)
  .attr("fill", (d) => color(d));
cbar.append("rect")
  .attr("width", CBAR_W).attr("height", CBAR_H)
  .attr("fill", "none").attr("stroke", "#000").attr("stroke-width", 1.1);
const cbarAxis = cbar.append("g")
  .attr("transform", `translate(0,${CBAR_H})`)
  .call(d3.axisBottom(cbarScale).tickValues(CBAR_TICKS).tickSize(5).tickPadding(2)
    .tickFormat((d) => (d < 0 ? "−" + Math.abs(d) : String(d))));
cbarAxis.select(".domain").remove();
</script>
</body>
</html>
